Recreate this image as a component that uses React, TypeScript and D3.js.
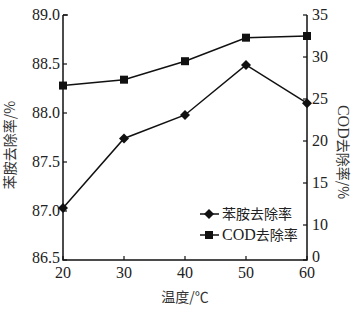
import React from "react";
import * as d3 from "d3";

const temps = [20, 30, 40, 50, 60];
const aniline = [87.03, 87.74, 87.98, 88.49, 88.1];
const cod = [26.6, 27.3, 29.5, 32.3, 32.5];
const leftTicks = [86.5, 87.0, 87.5, 88.0, 88.5, 89.0];
const rightTicks = [0, 10, 15, 20, 25, 30, 35];
const xTicks = [20, 30, 40, 50, 60];

const W = 353, H = 314;
const x0 = 63, x1 = 307, yTop = 15, yBot = 260;

export default function App() {
  const x = d3.scaleLinear().domain([20, 60]).range([x0, x1]);
  const yL = d3.scaleLinear().domain([86.5, 89.0]).range([yBot, yTop]);
  const yR = d3.scaleLinear().domain([0, 10, 35]).range([yBot, 225, yTop]);
  const lineA = d3.line<number>().x((_, i) => x(temps[i])).y((d) => yL(d));
  const lineC = d3.line<number>().x((_, i) => x(temps[i])).y((d) => yR(d));
  const serif = "Liberation Serif";
  const cjk = "Noto Sans CJK SC";
  const diamond = (cx: number, cy: number, r = 5) =>
    `M${cx},${cy - r}L${cx + r},${cy}L${cx},${cy + r}L${cx - r},${cy}Z`;
  return (
    <svg width={W} height={H} style={{ position: "absolute", left: 0, top: 0, background: "#fff" }}>
      <rect x={0} y={0} width={W} height={H} fill="#fff" />
      <path d={`M${x0},${yTop}V${yBot}H${x1}V${yTop}`} fill="none" stroke="#111" strokeWidth={1.5} />
      <line x1={x0} x2={x0 + 5} y1={yTop} y2={yTop} stroke="#111" strokeWidth={1.3} />
      {leftTicks.map((t) => (
        <g key={"l" + t}>
          <line x1={x0} x2={x0 + 4} y1={yL(t)} y2={yL(t)} stroke="#111" strokeWidth={1.2} />
          <text x={x0 - 3} y={yL(t) + (t === 86.5 ? 3 : 5)} textAnchor="end" fontFamily={serif} fontSize={16} fill="#222">
            {t.toFixed(1)}
          </text>
        </g>
      ))}
      {rightTicks.map((t) => (
        <g key={"r" + t}>
          <line x1={x1 - 4} x2={x1} y1={yR(t)} y2={yR(t)} stroke="#111" strokeWidth={1.2} />
          <text x={x1 + 5} y={yR(t) + (t === 0 ? 2 : 5)} textAnchor="start" fontFamily={serif} fontSize={16} fill="#222">
            {t}
          </text>
        </g>
      ))}
      {xTicks.map((t) => (
        <g key={"x" + t}>
          <line x1={x(t)} x2={x(t)} y1={yBot} y2={yBot - 4} stroke="#111" strokeWidth={1.2} />
          <text x={x(t)} y={yBot + 18} textAnchor="middle" fontFamily={serif} fontSize={16} fill="#222">
            {t}
          </text>
        </g>
      ))}
      <path d={lineA(aniline) || ""} fill="none" stroke="#111" strokeWidth={1.5} />
      <path d={lineC(cod) || ""} fill="none" stroke="#111" strokeWidth={1.5} />
      {aniline.map((v, i) => (
        <path key={"a" + i} d={diamond(x(temps[i]), yL(v))} fill="#111" />
      ))}
      {cod.map((v, i) => (
        <rect key={"c" + i} x={x(temps[i]) - 4} y={yR(v) - 4} width={8} height={8} fill="#111" />
      ))}
      <line x1={200} x2={219} y1={214} y2={214} stroke="#111" strokeWidth={1.5} />
      <path d={diamond(209, 214)} fill="#111" />
      <text x={222} y={219} fontFamily={cjk} fontSize={14} fill="#222">苯胺去除率</text>
      <line x1={200} x2={219} y1={235} y2={235} stroke="#111" strokeWidth={1.5} />
      <rect x={205} y={231} width={8} height={8} fill="#111" />
      <text x={222} y={240} fontFamily={serif} fontSize={16} fill="#222">
        COD<tspan fontFamily={cjk} fontSize={14}>去除率</tspan>
      </text>
      <text transform={`translate(15,145) rotate(-90)`} textAnchor="middle" fontFamily={cjk} fontSize={14} fill="#333">
        苯胺去除率/%
      </text>
      <text transform={`translate(338,152) rotate(90)`} textAnchor="middle" fontFamily={serif} fontSize={16} fill="#333">
        COD<tspan fontFamily={cjk} fontSize={14}>去除率/%</tspan>
      </text>
      <text x={185} y={302} textAnchor="middle" fontFamily={cjk} fontSize={14} fill="#333">
        温度/℃
      </text>
    </svg>
  );
}
